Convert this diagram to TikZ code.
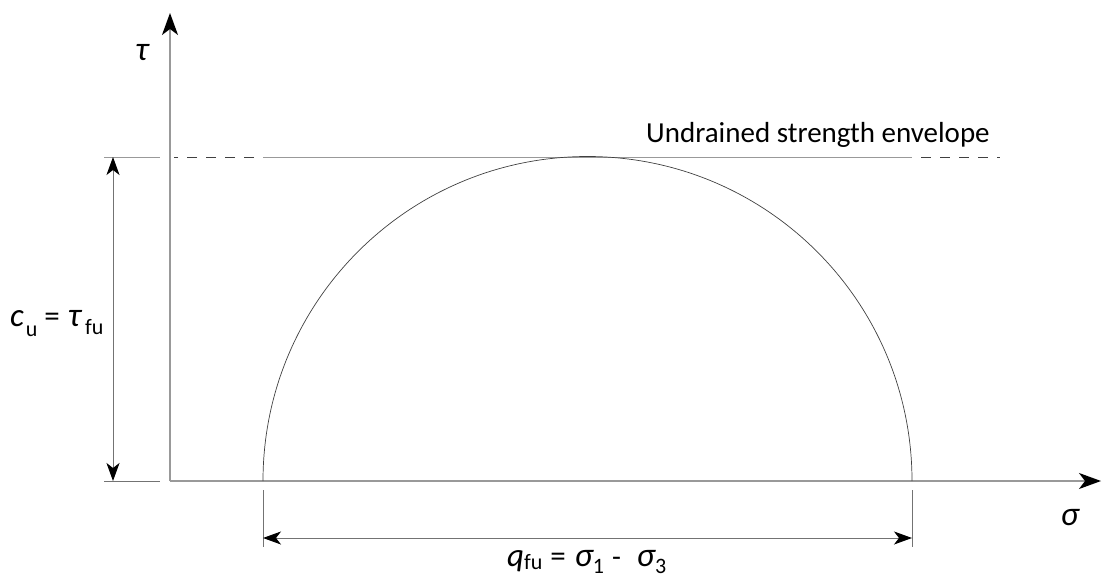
\documentclass[tikz,border=0pt]{standalone}
\usepackage{fontspec}
\setmainfont{Carlito}
\usetikzlibrary{arrows.meta}
\newcommand{\gk}[1]{{\fontsize{34}{38}\selectfont\itshape #1}}
\newcommand{\sbs}[2]{\raisebox{#1}{\fontsize{22}{24}\selectfont\upshape #2}}
\begin{document}
\begin{tikzpicture}[x=1pt,y=1pt,
  axis/.style={draw=black!40, line width=1.3pt, -{Stealth[length=22pt,width=16pt,inset=6pt,black]}},
  envline/.style={draw=black!40, line width=0.9pt},
  envdash/.style={draw=black!75, line width=0.9pt, dash pattern=on 10pt off 9pt, dash phase=10pt},
  dimline/.style={draw=black!55, line width=0.9pt},
  dimarrow/.style={draw=black!55, line width=0.9pt, {Stealth[length=18pt,width=13pt,inset=5pt,black]}-{Stealth[length=18pt,width=13pt,inset=5pt,black]}},
  circ/.style={draw=black!75, line width=0.7pt},
  lbl/.style={inner sep=0pt, font=\fontsize{29}{34}\selectfont}]
\useasboundingbox (0,0) rectangle (1103,-580);
% axes
\coordinate (O) at (170,-481);
\coordinate (Ytop) at (170,-13);
\coordinate (Xend) at (1101,-481);
\draw[axis] (O) -- (Ytop);
\draw[axis] (O) -- (Xend);
% base tick line
\coordinate (BL1) at (104,-481);
\coordinate (BL2) at (160,-481);
\draw[dimline] (BL1) -- (BL2);
% envelope
\coordinate (TL1) at (104,-157);
\coordinate (TL2) at (160,-157);
\coordinate (E0) at (174,-157);
\coordinate (E1) at (263,-157);
\coordinate (E2) at (912,-157);
\coordinate (E3) at (1000,-157);
\draw[envline] (TL1) -- (TL2);
\draw[envdash] (E1) -- (E0);
\draw[envline] (E1) -- (E2);
\draw[envdash] (E2) -- (E3);
% Mohr circle
\coordinate (S3) at (263,-481);
\coordinate (S1) at (912,-481);
\draw[circ] (S1) arc[start angle=0, end angle=180, radius=324.5pt];
% vertical dimension
\coordinate (V1) at (113,-157);
\coordinate (V2) at (113,-481);
\draw[dimarrow] (V1) -- (V2);
% horizontal dimension
\coordinate (X3a) at (263,-490);
\coordinate (X3b) at (263,-547);
\coordinate (X1a) at (912,-490);
\coordinate (X1b) at (912,-547);
\draw[dimline] (X3a) -- (X3b);
\draw[dimline] (X1a) -- (X1b);
\coordinate (H1) at (263,-538);
\coordinate (H2) at (912,-538);
\draw[dimarrow] (H1) -- (H2);
% labels
\node[lbl] (tau) at (142,-53) {\gk{τ}};
\node[lbl] (sigma) at (1070,-518) {\gk{σ}};
\node[lbl, anchor=base west] (env) at (646,-143) {Undrained strength envelope};
\node[lbl, anchor=base west] (cu) at (10,-326) {{\fontsize{33}{36}\selectfont\itshape c}\hspace{2pt}\sbs{-10pt}{u}\hspace{7pt}{\fontsize{31}{34}\selectfont =}\hspace{8pt}\gk{τ}\hspace{4pt}\sbs{-8pt}{fu}};
\node[lbl, anchor=base west] (qfu) at (507,-566) {{\fontsize{33}{36}\selectfont\itshape q}\sbs{-3pt}{fu}\hspace{8pt}{\fontsize{31}{34}\selectfont =}\hspace{9pt}\gk{σ}\sbs{-7pt}{1}\hspace{8pt}-\hspace{16pt}\gk{σ}\sbs{-7pt}{3}};
\end{tikzpicture}
\end{document}
